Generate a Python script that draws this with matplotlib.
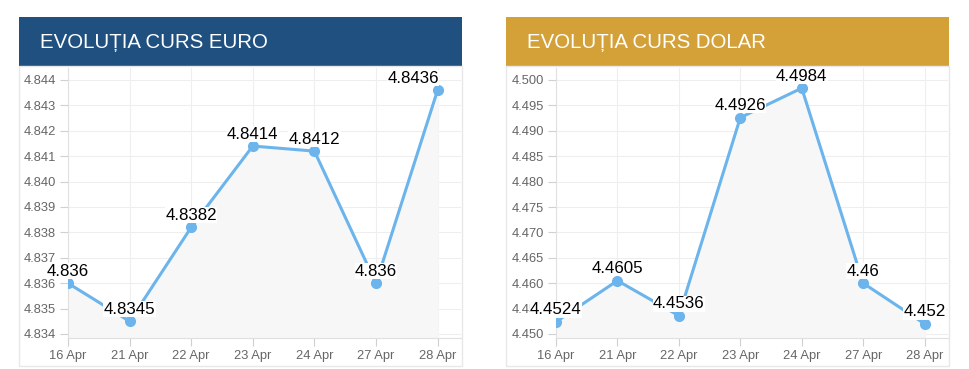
import matplotlib.pyplot as plt
from matplotlib.patches import Rectangle

plt.rcParams['font.family'] = ['Liberation Sans', 'DejaVu Sans']

days = ['16 Apr', '21 Apr', '22 Apr', '23 Apr', '24 Apr', '27 Apr', '28 Apr']
euro = [4.836, 4.8345, 4.8382, 4.8414, 4.8412, 4.836, 4.8436]
euro_labels = ['4.836', '4.8345', '4.8382', '4.8414', '4.8412', '4.836', '4.8436']
dolar = [4.4524, 4.4605, 4.4536, 4.4926, 4.4984, 4.46, 4.452]
dolar_labels = ['4.4524', '4.4605', '4.4536', '4.4926', '4.4984', '4.46', '4.452']
euro_ticks = [4.834, 4.835, 4.836, 4.837, 4.838, 4.839, 4.840, 4.841, 4.842, 4.843, 4.844]
dolar_ticks = [4.450, 4.455, 4.460, 4.465, 4.470, 4.475, 4.480, 4.485, 4.490, 4.495, 4.500]

W, H = 970, 369
fig = plt.figure(figsize=(W / 100, H / 100), dpi=100)
LBL_DY = 5.4  # points between marker centre and label baseline

def px(x0, y0, x1, y1):
    # pixel box (top-left origin) -> figure rect
    return [x0 / W, 1 - y1 / H, (x1 - x0) / W, (y1 - y0) / H]

def panel(hx0, hx1, color, title, ax_left, vals, labels, ticks):
    # header band
    r = px(hx0, 17, hx1, 66)
    fig.patches.append(Rectangle((r[0], r[1]), r[2], r[3], transform=fig.transFigure,
                                 facecolor=color, edgecolor='none', zorder=0))
    fig.text((hx0 + 21) / W, 1 - 43 / H, title, color='white', fontsize=14.7,
             ha='left', va='center')
    # light border round the chart body
    r = px(hx0, 66, hx1, 366)
    fig.patches.append(Rectangle((r[0], r[1]), r[2], r[3], transform=fig.transFigure,
                                 facecolor='none', edgecolor='#e8e8e8', lw=1, zorder=0))

    ax = fig.add_axes(px(ax_left, 68, hx1 - 1, 338))
    x = list(range(len(vals)))
    step = ticks[1] - ticks[0]
    lo = ticks[0] - step * 4 / 25.4
    hi = ticks[-1] + step * 12 / 25.4
    ax.fill_between(x, vals, lo, color='#f7f7f7', zorder=1)
    ax.plot(x, vals, color='#6cb4ec', lw=2.2, marker='o', ms=7, zorder=3)
    texts = []
    for xi, v, lab in zip(x, vals, labels):
        t = ax.annotate(lab, (xi, v), xytext=(0, LBL_DY), textcoords='offset points',
                        ha='center', va='baseline', fontsize=12.2, color='black', zorder=4,
                        annotation_clip=False,
                        bbox=dict(boxstyle='square,pad=0.02', fc='white', ec='none'))
        texts.append(t)
    ax.set_xlim(0, 6.38)
    ax.set_ylim(lo, hi)
    ax.set_xticks(x)
    ax.set_xticklabels(days)
    ax.set_yticks(ticks)
    ax.set_yticklabels(['{:.3f}'.format(t) for t in ticks])
    ax.grid(True, color='#eeeeee', lw=0.8, zorder=0)
    ax.set_axisbelow(True)
    for s in ['top', 'right']:
        ax.spines[s].set_visible(False)
    ax.spines['left'].set_color('#e0e0e0')
    ax.spines['bottom'].set_color('#e0e0e0')
    ax.tick_params(axis='both', colors='#d0d0d0', labelcolor='#666666', labelsize=9.3,
                   length=6, width=0.8)
    ax.tick_params(axis='y', pad=2.5)
    ax.tick_params(axis='x', pad=3)
    return ax, texts

panels = [
    panel(19, 462, '#1f5080', 'EVOLUȚIA CURS EURO', 68, euro, euro_labels, euro_ticks),
    panel(506, 949, '#d4a139', 'EVOLUȚIA CURS DOLAR', 556, dolar, dolar_labels, dolar_ticks),
]

# a label that would run past the plot's right edge is right-aligned on its point
fig.canvas.draw()
renderer = fig.canvas.get_renderer()
for ax, texts in panels:
    right = ax.get_window_extent(renderer).x1
    for t in texts:
        if t.get_window_extent(renderer).x1 > right:
            t.set_ha('right')
            t.set_position((1, LBL_DY))

fig.savefig('out.png', dpi=100)
